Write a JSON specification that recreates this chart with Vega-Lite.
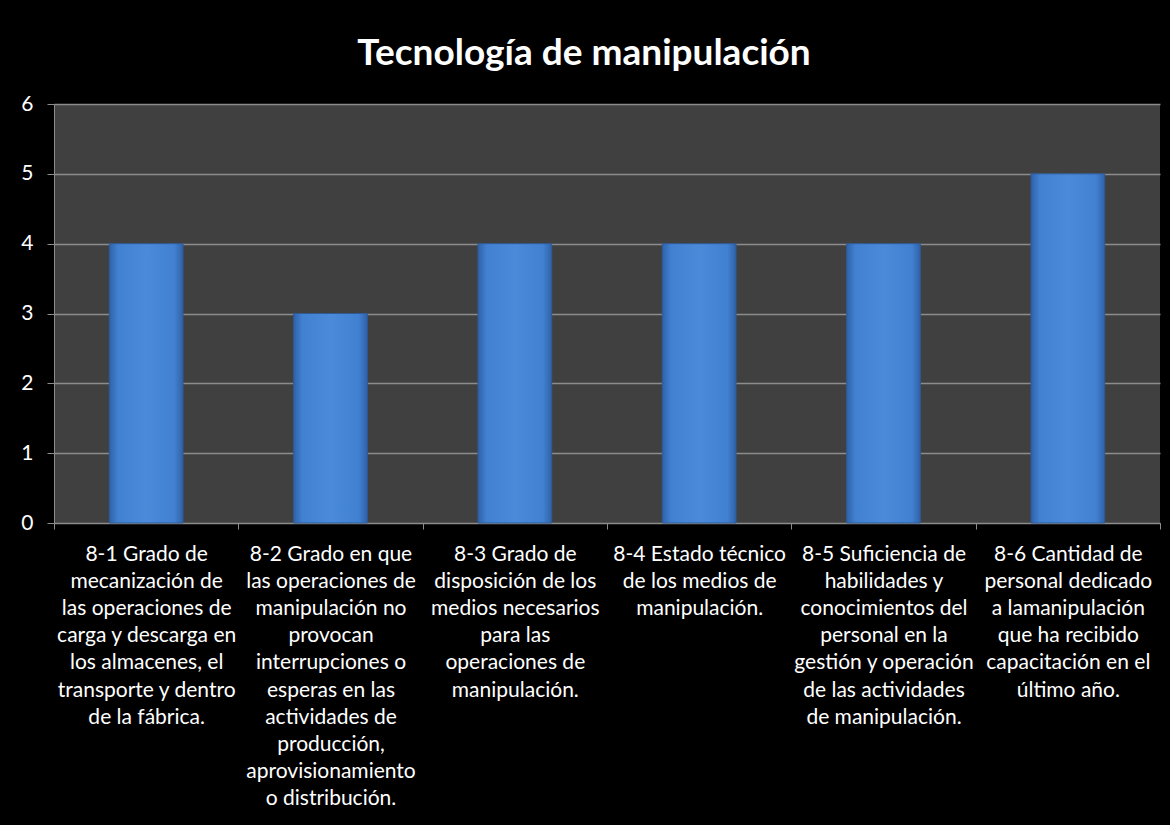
{
  "$schema": "https://vega.github.io/schema/vega-lite/v6.json",
  "autosize": "none",
  "width": 1106,
  "height": 419,
  "padding": {"left": 54, "top": 104, "right": 10, "bottom": 302},
  "background": "#000000",
  "title": {
    "text": "Tecnología de manipulación",
    "font": "Lato",
    "fontSize": 37,
    "fontWeight": "bold",
    "color": "#ffffff",
    "anchor": "middle",
    "dx": -23,
    "baseline": "alphabetic",
    "offset": -9
  },
  "data": {
    "values": [
      {"item": "8-1", "label": "8-1 Grado de|mecanización de|las operaciones de|carga y descarga en|los almacenes, el|transporte y dentro|de la fábrica.", "value": 4},
      {"item": "8-2", "label": "8-2 Grado en que|las operaciones de|manipulación no|provocan|interrupciones o|esperas en las|actividades de|producción,|aprovisionamiento|o distribución.", "value": 3},
      {"item": "8-3", "label": "8-3 Grado de|disposición de los|medios necesarios|para las|operaciones de|manipulación.", "value": 4},
      {"item": "8-4", "label": "8-4 Estado técnico|de los medios de|manipulación.", "value": 4},
      {"item": "8-5", "label": "8-5 Suficiencia de|habilidades y|conocimientos del|personal en la|gestión y operación|de  las actividades|de manipulación.", "value": 4},
      {"item": "8-6", "label": "8-6 Cantidad de|personal dedicado|a lamanipulación|que ha recibido|capacitación en el|último año.", "value": 5}
    ]
  },
  "mark": {
    "type": "bar",
    "width": {"band": 0.4},
    "stroke": "#2f5a94",
    "strokeWidth": 1,
    "color": {
      "gradient": "linear",
      "x1": 0, "x2": 1, "y1": 0, "y2": 0,
      "stops": [
        {"offset": 0, "color": "#2f62a8"},
        {"offset": 0.12, "color": "#4281d2"},
        {"offset": 0.5, "color": "#4a8ad9"},
        {"offset": 0.88, "color": "#4281d2"},
        {"offset": 1, "color": "#2f62a8"}
      ]
    }
  },
  "encoding": {
    "x": {
      "field": "label",
      "type": "nominal",
      "sort": null,
      "scale": {"paddingInner": 0, "paddingOuter": 0},
      "axis": {
        "title": null,
        "labelAngle": 0,
        "labelExpr": "split(datum.label, '|')",
        "labelFont": "Lato",
        "labelFontSize": 21,
        "labelLineHeight": 27.2,
        "labelColor": "#ffffff",
        "labelBaseline": "top",
        "labelPadding": 14,
        "labelLimit": 0,
        "tickBand": "extent",
        "tickSize": 6,
        "tickColor": "#8c8c8c",
        "domainColor": "#8c8c8c",
        "grid": false
      }
    },
    "y": {
      "field": "value",
      "type": "quantitative",
      "scale": {"domain": [0, 6]},
      "axis": {
        "title": null,
        "values": [0, 1, 2, 3, 4, 5, 6],
        "labelFont": "Lato",
        "labelFontSize": 21,
        "labelColor": "#ffffff",
        "labelPadding": 14,
        "tickSize": 7,
        "tickColor": "#8c8c8c",
        "domainColor": "#8c8c8c",
        "gridColor": "#8c8c8c",
        "gridWidth": 1.5
      }
    }
  },
  "config": {
    "view": {"fill": "#404040", "stroke": null}
  }
}
